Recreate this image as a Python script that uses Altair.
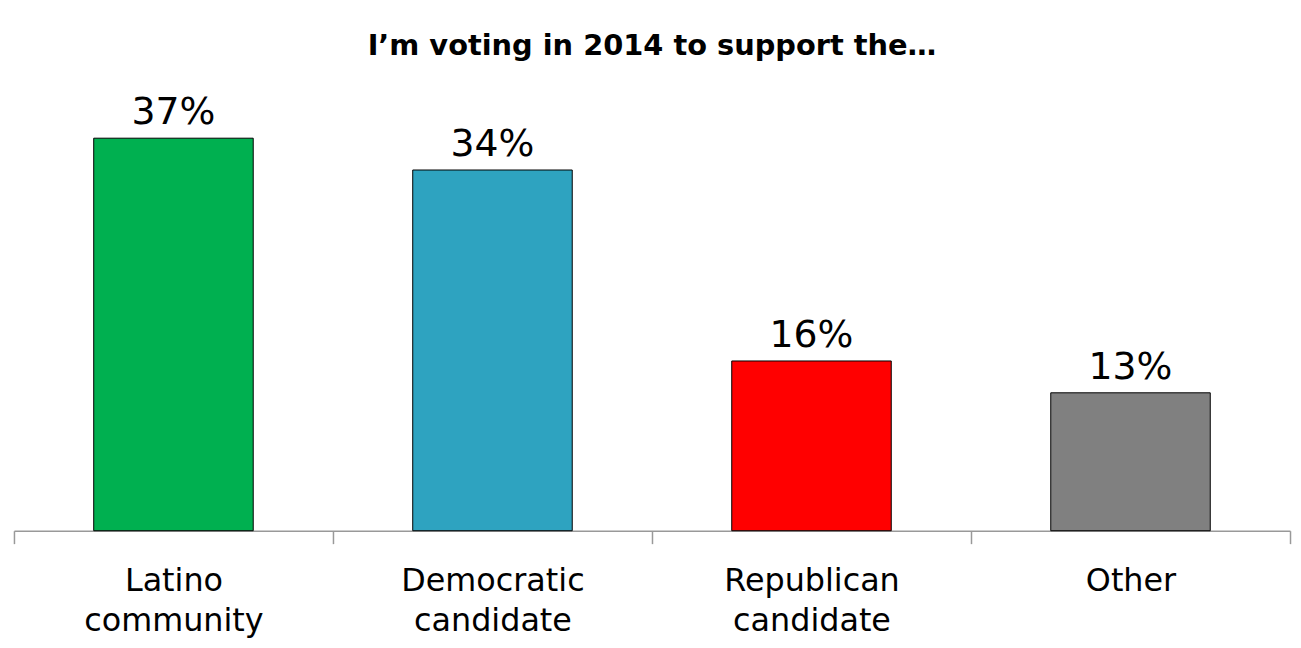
import altair as alt
import pandas as pd

categories = ["Latino community", "Democratic candidate", "Republican candidate", "Other"]
values = [37, 34, 16, 13]
colors = ["#00B050", "#2EA3C0", "#FF0000", "#808080"]

df = pd.DataFrame({"cat": categories, "val": values, "color": colors,
                   "label": [f"{v}%" for v in values]})

FONT = "DejaVu Sans"

x = alt.X("cat:N", sort=categories, title=None,
          scale=alt.Scale(paddingInner=0, paddingOuter=0),
          axis=alt.Axis(labelAngle=0, labelExpr="split(datum.label, ' ')",
                        labelFontSize=32, labelColor="black", labelFont=FONT,
                        labelLineHeight=40, labelPadding=22, labelLimit=400,
                        tickBand="extent", tickSize=13, tickColor="#999999",
                        domainColor="#999999", domainWidth=1.5, tickWidth=1.5))
y = alt.Y("val:Q", scale=alt.Scale(domain=[0, 40], nice=False), axis=None)

bars = alt.Chart(df).mark_bar(stroke="black", strokeWidth=1,
                              width=alt.RelativeBandSize(0.5)).encode(
    x=x, y=y, color=alt.Color("color:N", scale=None))
text = alt.Chart(df).mark_text(baseline="bottom", dy=-6, fontSize=38, font=FONT,
                               color="black").encode(
    x=alt.X("cat:N", sort=categories), y=y, text="label:N")

chart = (bars + text).properties(
    width=1284, height=427,
    title=alt.Title("I\u2019m voting in 2014 to support the\u2026", fontSize=29,
                    font=FONT, fontWeight="bold", color="black", offset=34,
                    anchor="middle"),
    autosize=alt.AutoSizeParams(type="none"),
    padding={"left": 6, "top": 97, "right": 3, "bottom": 110},
).configure_view(stroke=None).configure_axis(grid=False)

chart.save("out.html", embed_options={"renderer": "svg", "actions": False})
